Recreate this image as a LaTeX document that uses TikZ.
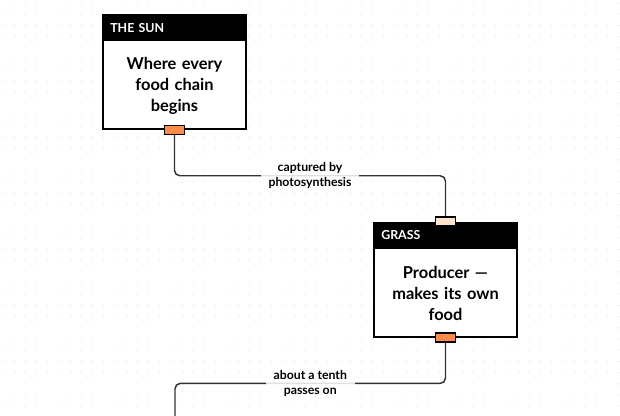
\documentclass[tikz,border=0pt]{standalone}
\usepackage{fontspec}
\setmainfont{Lato}
\usetikzlibrary{positioning,calc}
\definecolor{portorange}{HTML}{FF8A4C}
\definecolor{portpeach}{HTML}{FCE4D0}
\definecolor{griddot}{HTML}{E6E6E6}
\definecolor{linkgray}{HTML}{333333}

\begin{document}
\begin{tikzpicture}[
    x=0.75pt, y=-0.75pt,
    card/.style={draw=black, line width=1.5pt, fill=white, minimum width=107.25pt, minimum height=85.5pt, inner sep=0pt},
    head/.style={fill=black, text=white, font=\bfseries\fontsize{9.3}{10}\selectfont, text width=95.25pt, inner xsep=6pt, minimum height=20.25pt, anchor=north west, align=left},
    body/.style={font=\bfseries\fontsize{12.3}{15.75}\selectfont, text width=100pt, align=center},
    port/.style={draw=black, line width=1.1pt, fill=portorange, minimum width=15pt, minimum height=6.75pt, inner sep=0pt},
    link/.style={draw=linkgray, line width=1.1pt, rounded corners=4pt},
    lbl/.style={font=\bfseries\fontsize{9.2}{11}\selectfont, align=center, fill=white, fill opacity=0.85, text opacity=1, inner xsep=6pt, inner ysep=1pt}
]
\useasboundingbox (0,0) rectangle (620,415);
\fill[white] (0,0) rectangle (620,415);

% dotted background
\foreach \gx in {3,14.2,...,620}
  \foreach \gy in {3,14.2,...,415}
    \fill[griddot] (\gx,\gy) circle (0.55pt);

% the sun
\node[card] (sun) at (174.5,72) {};
\node[head] (sunhead) at (sun.north west) {THE SUN};
\node[body] (suntext) at (174.5,85.5) {Where every\\food chain\\begins};
\node[port] (sunout) at (sun.south) {};

% grass
\node[card] (grass) at (445.5,279.5) {};
\node[head] (grasshead) at (grass.north west) {GRASS};
\node[body] (grasstext) at (445.5,293) {Producer ---\\makes its own\\food};
\node[port, fill=portpeach] (grassin) at (grass.north) {};
\node[port] (grassout) at (grass.south) {};

% next link leaves the frame
\coordinate (nextin) at (175,424);

\draw[link] (sunout.south) |- ($(sunout.south)!0.5!(grassin.north)$) -| (grassin.north);
\node[lbl] (sunlbl) at ($(sunout.south)!0.5!(grassin.north)$) {captured by\\photosynthesis};

\draw[link] (grassout.south) |- ($(grassout.south)!0.5!(nextin)$) -| (nextin);
\node[lbl] (grasslbl) at ($(grassout.south)!0.5!(nextin)$) {about a tenth\\passes on};
\end{tikzpicture}
\end{document}
